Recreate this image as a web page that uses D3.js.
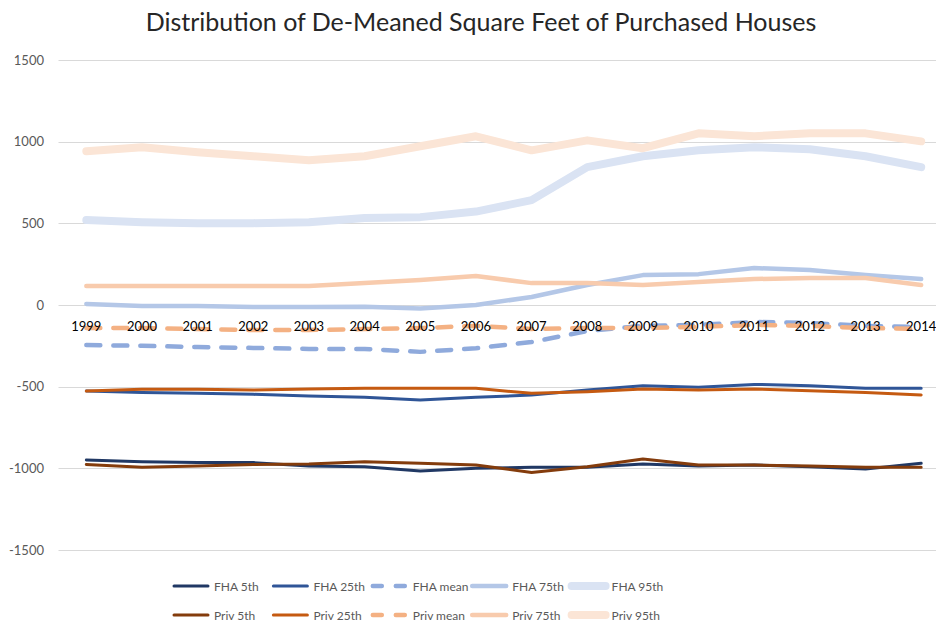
<!DOCTYPE html>
<html>
<head>
<meta charset="utf-8">
<script src="https://cdn.jsdelivr.net/npm/d3@7"></script>
<style>
  body { margin: 0; background: #fff; }
  text { font-family: Lato, "Open Sans", sans-serif; }
</style>
</head>
<body>
<svg width="936" height="625"></svg>
<script>
const years = ["1999","2000","2001","2002","2003","2004","2005","2006","2007","2008","2009","2010","2011","2012","2013","2014"];
const yTicks = [1500, 1000, 500, 0, -500, -1000, -1500];

const fha5 = [-949,-959,-965,-965,-986,-990,-1016,-1000,-994,-994,-973,-986,-980,-990,-1004,-969];
const fha25 = [-527,-535,-541,-547,-557,-565,-582,-565,-551,-520,-494,-504,-486,-494,-510,-510];
const fhaMean = [-245,-250,-257,-263,-269,-269,-287,-265,-227,-159,-128,-122,-104,-110,-128,-134];
const fha75 = [6,-6,-6,-12,-12,-10,-22,0,49,122,183,189,226,214,183,159];
const fha95 = [520,507,501,501,507,532,538,572,642,844,911,947,966,953,911,844];
const priv5 = [-976,-994,-986,-976,-973,-959,-969,-980,-1025,-990,-943,-980,-980,-986,-994,-994];
const priv25 = [-527,-516,-516,-520,-514,-510,-510,-510,-541,-531,-514,-520,-514,-525,-535,-551];
const privMean = [-141,-141,-147,-153,-153,-147,-141,-128,-147,-141,-141,-134,-122,-128,-141,-147];
const priv75 = [116,116,116,116,116,134,153,177,134,134,122,141,159,165,165,122];
const priv95 = [941,966,935,911,886,911,972,1033,947,1008,960,1051,1033,1051,1051,1002];

const series = [
  {name: "FHA 5th", values: fha5, color: "#203864", width: 3},
  {name: "FHA 25th", values: fha25, color: "#2f5597", width: 3},
  {name: "FHA mean", values: fhaMean, color: "#8faadc", width: 4.5, dash: "14,13"},
  {name: "FHA 75th", values: fha75, color: "#b4c7e7", width: 4.5},
  {name: "FHA 95th", values: fha95, color: "#dae3f3", width: 8},
  {name: "Priv 5th", values: priv5, color: "#843c0c", width: 3},
  {name: "Priv 25th", values: priv25, color: "#c55a11", width: 3},
  {name: "Priv mean", values: privMean, color: "#f4b183", width: 4.5, dash: "14,13"},
  {name: "Priv 75th", values: priv75, color: "#f8cbad", width: 4.5},
  {name: "Priv 95th", values: priv95, color: "#fbe5d6", width: 8}
];

const svg = d3.select("svg");

const x = d3.scaleBand().domain(years).range([58.5, 949]).paddingInner(0);
const y = d3.scaleLinear().domain([-1500, 1500]).range([550, 60]);
const cx = d => x(d) + x.bandwidth() / 2;

// title
svg.append("text")
  .attr("x", 481).attr("y", 31)
  .attr("text-anchor", "middle")
  .attr("font-size", 25)
  .attr("fill", "#262626")
  .text("Distribution of De-Meaned Square Feet of Purchased Houses");

// gridlines + y labels
svg.append("g")
  .selectAll("line")
  .data(yTicks)
  .enter().append("line")
  .attr("x1", 58.5).attr("x2", 949)
  .attr("y1", d => Math.round(y(d)) + 0.5)
  .attr("y2", d => Math.round(y(d)) + 0.5)
  .attr("stroke", "#d9d9d9")
  .attr("stroke-width", 1);

svg.append("g")
  .selectAll("text")
  .data(yTicks)
  .enter().append("text")
  .attr("x", 44)
  .attr("y", d => y(d) + 4.5)
  .attr("text-anchor", "end")
  .attr("font-size", 13)
  .attr("fill", "#595959")
  .text(d => d);

// lines
const line = d3.line()
  .x((d, i) => cx(years[i]))
  .y(d => y(d));

svg.append("g")
  .selectAll("path")
  .data(series)
  .enter().append("path")
  .attr("d", d => line(d.values))
  .attr("fill", "none")
  .attr("stroke", d => d.color)
  .attr("stroke-width", d => d.width)
  .attr("stroke-dasharray", d => d.dash || null)
  .attr("stroke-linejoin", "round")
  .attr("stroke-linecap", "round");

// x labels at the zero line
svg.append("g")
  .selectAll("text")
  .data(years)
  .enter().append("text")
  .attr("x", d => cx(d))
  .attr("y", y(0) + 26)
  .attr("text-anchor", "middle")
  .attr("font-size", 13)
  .attr("fill", "#000")
  .text(d => d);

// legend
const legend = svg.append("g")
  .selectAll("g")
  .data(series)
  .enter().append("g")
  .attr("transform", (d, i) => `translate(${172 + (i % 5) * 99.4},${i < 5 ? 586 : 615})`);

legend.append("line")
  .attr("x1", 2).attr("x2", 36)
  .attr("stroke", d => d.color)
  .attr("stroke-width", d => d.width)
  .attr("stroke-dasharray", d => d.dash ? "9,14" : null)
  .attr("stroke-linecap", "round");

legend.append("text")
  .attr("x", 42)
  .attr("y", 4.5)
  .attr("font-size", 12)
  .attr("fill", "#595959")
  .text(d => d.name);
</script>
</body>
</html>
